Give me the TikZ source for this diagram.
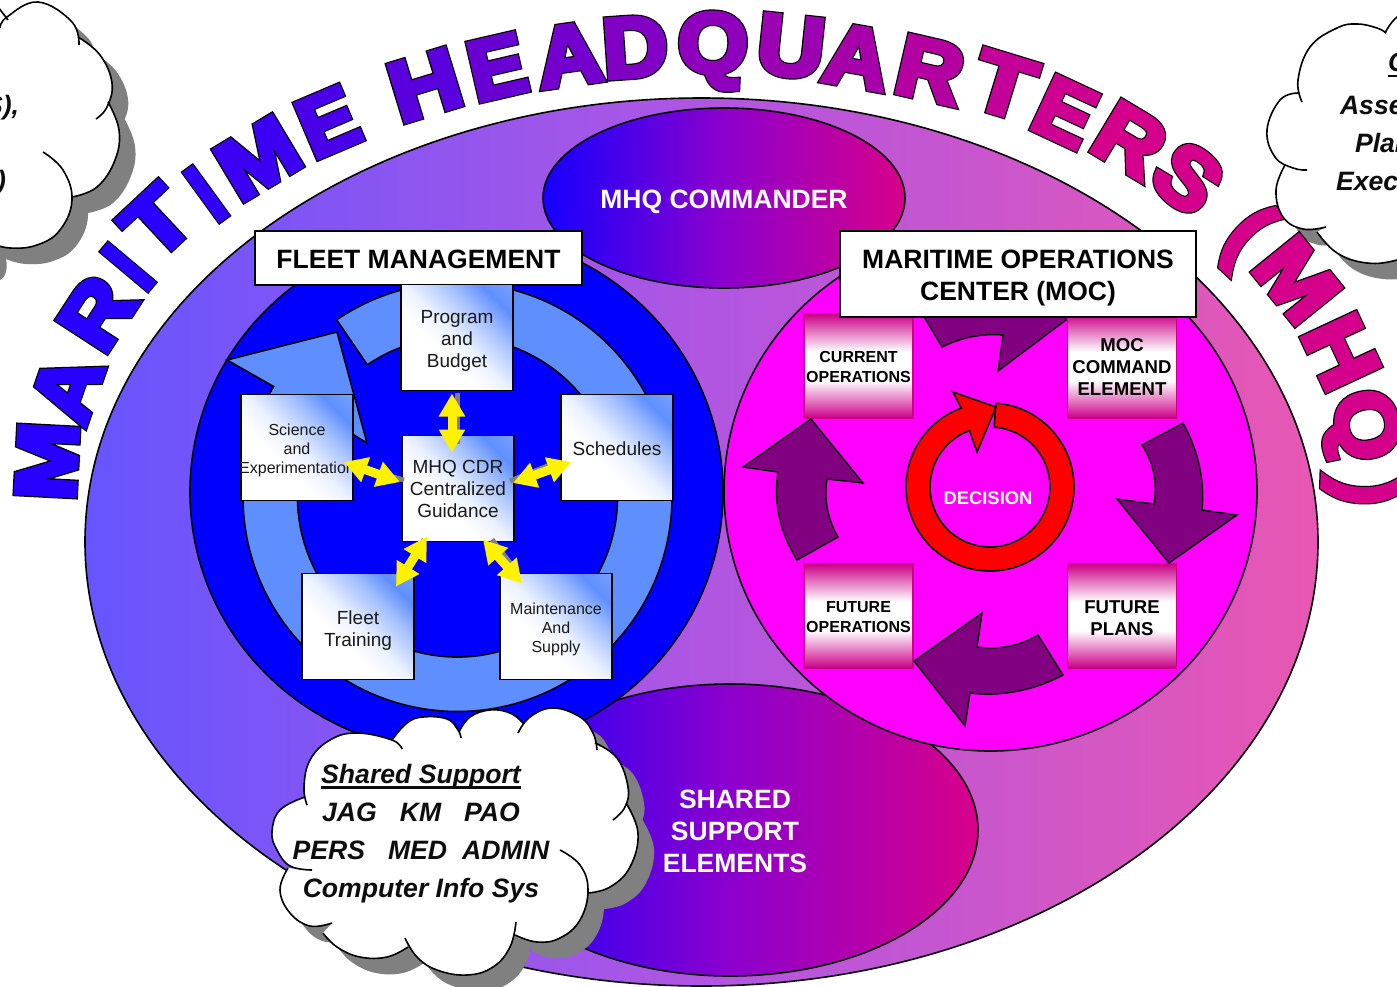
\documentclass[tikz,border=0pt]{standalone}
\usepackage{fontspec}
\usepackage{graphicx}
\setmainfont{Liberation Sans}
\usetikzlibrary{calc,arrows.meta,shadings}
\definecolor{tA}{RGB}{40,0,255}
\definecolor{tB}{RGB}{212,0,140}
\definecolor{ovL}{RGB}{102,85,255}
\definecolor{ovM}{RGB}{176,86,226}
\definecolor{ovR}{RGB}{232,87,178}
\definecolor{elL}{RGB}{20,0,255}
\definecolor{elM}{RGB}{140,0,205}
\definecolor{elR}{RGB}{216,0,138}
\definecolor{ring}{RGB}{95,143,255}
\definecolor{pk}{RGB}{204,0,136}
\definecolor{mgt}{RGB}{255,0,255}
\definecolor{purp}{RGB}{128,0,128}
\definecolor{shad}{RGB}{128,128,128}
\pgfdeclareverticalshading{boxg}{100bp}{color(0bp)=(white); color(15bp)=(white); color(40bp)=(white); color(50bp)=(ring!12!white); color(64bp)=(ring!55!white); color(75bp)=(ring); color(85bp)=(ring!85!white); color(100bp)=(ring!85!white)}
\pgfdeclareverticalshading{pkg}{100bp}{color(0bp)=(pk); color(25bp)=(pk); color(43bp)=(white); color(57bp)=(white); color(75bp)=(pk); color(100bp)=(pk)}
\newcommand{\olt}[2][1.14]{\rlap{\special{pdf:code q 0 0 0 RG 2 Tr 7 w 3 M}\scalebox{#1}[1]{#2}\special{pdf:code 0 Tr Q}}\special{pdf:code q 2 Tr 4.6 w 3 M}\scalebox{#1}[1]{#2}\special{pdf:code 0 Tr Q}}
\newcommand{\dn}[1]{\rule{0pt}{\dimexpr 0.75em+2\dimexpr #1\relax\relax}}
\newcommand{\thul}[1]{\setbox0\hbox{#1}\rlap{\rule[-5.5pt]{\wd0}{2.5pt}}\box0 }
\newcommand{\cloudC}[1]{%
 plot[smooth,tension=.7] coordinates {(307,805)(304,787)(310,760)(330,740)(357,733)(392,740)(402,749)}
 #1 plot[smooth,tension=.7] coordinates {(392,740)(407,723)(423,717)(447,719)(458,730)(461,738)}
 #1 plot[smooth,tension=.7] coordinates {(459,732)(470,717)(490,710)(510,713)(523,723)}
 #1 plot[smooth,tension=.7] coordinates {(518,733)(530,717)(553,708)(580,717)(593,733)(597,750)}
 #1 plot[smooth,tension=.7] coordinates {(595,743)(617,758)(628,787)(625,807)(613,820)}
 #1 plot[smooth,tension=.7] coordinates {(626,803)(638,833)(630,867)(610,887)(588,893)}
 #1 plot[smooth,tension=.7] coordinates {(560,850)(580,865)(588,890)(580,920)(560,938)(537,942)(515,935)}
 #1 plot[smooth,tension=.7] coordinates {(516,922)(510,947)(493,967)(467,975)(437,970)(417,957)(405,938)}
 #1 plot[smooth,tension=.7] coordinates {(408,947)(387,957)(360,957)(337,947)(323,933)}
 #1 plot[smooth,tension=.7] coordinates {(332,923)(310,926)(290,913)(280,890)(288,868)}
 #1 plot[smooth,tension=.7] coordinates {(312,870)(290,866)(277,850)(272,832)(280,810)(305,797)}}
\newcommand{\cloudL}[1]{%
 plot[smooth,tension=.7] coordinates {(-5,3)(8,20)}
 #1 plot[smooth,tension=.7] coordinates {(0,28)(7,17)(38,2)(72,22)(79,45)}
 #1 plot[smooth,tension=.7] coordinates {(78,37)(100,55)(112,83)(107,107)(96,119)}
 #1 plot[smooth,tension=.7] coordinates {(108,102)(119,130)(115,160)(97,187)(72,197)}
 #1 plot[smooth,tension=.7] coordinates {(43,152)(63,170)(72,200)(60,230)(37,245)(10,248)(-10,243)}
 #1 plot[smooth,tension=.7] coordinates {(-10,243)(-16,264)(-60,270)}
 #1 (-100,100) #1 (-50,-10)}
\newcommand{\cloudR}[1]{%
 plot[smooth,tension=.7] coordinates {(1302,102)(1298,80)(1310,47)(1337,28)(1357,24)(1377,28)(1386,33)}
 #1 plot[smooth,tension=.7] coordinates {(1385,33)(1397,17)(1420,5)}
 #1 (1460,100)
 #1 plot[smooth,tension=.7] coordinates {(1420,250)(1397,260)(1367,263)(1337,253)(1317,232)}
 #1 plot[smooth,tension=.7] coordinates {(1326,227)(1303,229)(1283,217)(1276,190)(1285,165)}
 #1 plot[smooth,tension=.7] coordinates {(1307,170)(1293,168)(1275,157)(1267,130)(1280,100)(1298,93)}}
\tikzset{
 every node/.style={inner sep=0pt,outer sep=0pt},
 lw/.style={line width=1.6pt,draw=black},
 ttl/.style={font=\bfseries\fontsize{85}{85}\selectfont,text height=58.5pt,text depth=0pt},
 ttp/.style={font=\bfseries\fontsize{85}{85}\selectfont},
 wbox/.style={draw=black,line width=1.6pt,fill=white,font=\bfseries\fontsize{26.5}{32}\selectfont,align=center},
 bbox/.style={draw=black,line width=1.6pt,shade,shading=boxg,shading angle=-45,minimum width=112pt,minimum height=106pt,align=center,text=black!90},
 big/.style={font=\fontsize{19}{22}\selectfont},
 small/.style={font=\fontsize{16}{19}\selectfont},
 pbox/.style={draw=pk,line width=1.6pt,shade,shading=pkg,minimum width=109pt,minimum height=104pt,align=center},
 ptsmall/.style={font=\bfseries\fontsize{16}{20}\selectfont},
 ptbig/.style={font=\bfseries\fontsize{18.6}{22}\selectfont},
 wtxt/.style={text=white,font=\bfseries\fontsize{26.5}{32}\selectfont,align=center},
 parr/.style={draw=black,line width=1.4pt,fill=purp,line join=miter},
 yarr/.style={draw=yellow,line width=9pt,{Triangle[length=23pt,width=25pt]}-{Triangle[length=23pt,width=25pt]}},
 garr/.style={draw=shad,line width=5pt},
 cloudtxt/.style={font=\bfseries\itshape\fontsize{26.6}{38}\selectfont,align=center,text=black!95},
 cloudline/.style={draw=black,line width=1.6pt},
}
\begin{document}
\begin{tikzpicture}[x=1pt,y=-1pt]
\useasboundingbox (0,0) rectangle (1397,986);
\clip (0,0) rectangle (1397,986);
\fill[white] (0,0) rectangle (1397,986);
% large ellipse
\path[lw,left color=ovL,right color=ovR,middle color=ovM] (701.5,542) ellipse [x radius=616.5,y radius=444];
% commander and shared ellipses
\path[lw,left color=elL,right color=elR,middle color=elM] (724,198) ellipse [x radius=181,y radius=90];
\path[lw,left color=elL,right color=elR,middle color=elM] (730,830) ellipse [x radius=248,y radius=146];
% two circles
\path[lw,fill=blue] (456.5,492) ellipse [x radius=266.5,y radius=260];
\path[lw,fill=mgt] (990.5,491) ellipse [x radius=266.5,y radius=260];
% light-blue ring arrow
\coordinate (rc) at (457.5,497);
\path[lw,fill=ring,line join=miter] ($(rc)+(-124.3:214.5)$) arc[start angle=-124.3,end angle=211,radius=214.5]
  -- (227,360) -- (337,332) -- (367,443) -- ($(rc)+(211:160)$) arc[start angle=211,end angle=-124.3,radius=160] -- cycle;
% pink boxes
\node[pbox,ptsmall] (cur) at (858.5,366) {\dn{1pt}CURRENT\\OPERATIONS};
\node[pbox,ptbig] (cmd) at (1122,366) {\dn{1pt}MOC\\COMMAND\\ELEMENT};
\node[pbox,ptsmall] (fop) at (858.5,616) {\dn{1pt}FUTURE\\OPERATIONS};
\node[pbox,ptbig] (fpl) at (1122,616) {\dn{1.5pt}FUTURE\\PLANS};
% purple arrows
\path[parr] (917,305) -- (942,347) .. controls (960,338) and (982,333) .. (1003,335) -- (998,371) -- (1066,320) -- (1055,290) -- (925,290) -- cycle;
\path[parr] (1183,423) -- (1142,445) .. controls (1155,465) and (1157,485) .. (1154,504) -- (1117,499) -- (1169,563) -- (1237,515) -- (1202,510) .. controls (1205,480) and (1198,450) .. (1183,423) -- cycle;
\path[parr] (1063,675) -- (1038,635) .. controls (1020,646) and (998,650) .. (977,647) -- (982,613) -- (914,661) -- (965,726) -- (970,693) .. controls (1002,697) and (1035,690) .. (1063,675) -- cycle;
\path[parr] (797,560) -- (838,537) .. controls (827,518) and (824,498) .. (827,479) -- (863,483) -- (811,419) -- (743,467) -- (778,472) .. controls (773,502) and (780,533) .. (797,560) -- cycle;
% red ring arrow
\coordinate (dc) at (990,487);
\path[lw,fill=red,line join=miter] ($(dc)+(-86:84)$) arc[start angle=-86,end angle=250,radius=84]
  -- (953,392) -- (996,407) -- (977,452) -- ($(dc)+(250:60)$) arc[start angle=250,end angle=-86,radius=60] -- cycle;
\node[text=white,font=\bfseries\fontsize{18.4}{22}\selectfont] (dec) at (988,498) {DECISION};
% header boxes
\node[wbox,minimum width=327pt,minimum height=54pt] (fleet) at (418.5,258) {\dn{1pt}FLEET MANAGEMENT};
\node[wbox,minimum width=356pt,minimum height=86pt] (moc) at (1018,274) {\dn{3pt}MARITIME OPERATIONS\\CENTER (MOC)};
% ellipse labels
\node[wtxt] (cmdr) at (724,202) {MHQ COMMANDER};
\node[wtxt] (sse) at (735,831) {SHARED\\SUPPORT\\ELEMENTS};
% fleet boxes
\node[bbox,big] (prog) at (457,337.5) {\dn{2.5pt}Program\\and\\Budget};
\node[bbox,small] (sci) at (297,447.5) {\dn{3pt}Science\\and\\\makebox[0pt][c]{Experimentation}};
\node[bbox,big] (sch) at (617,447.5) {\dn{1pt}Schedules};
\node[bbox,big] (mhq) at (458,488.5) {MHQ CDR\\Centralized\\Guidance};
\node[bbox,big] (flt) at (358,626.5) {\dn{4pt}Fleet\\Training};
\node[bbox,small] (mnt) at (556,626.5) {\dn{3pt}Maintenance\\And\\Supply};
% connectors
\draw[garr] ([shift={(0,2)}]prog.south) -- ([shift={(-1,8)}]mhq.north);
\draw[garr] ([shift={(2,-8.5)}]mhq.west) -- ([shift={(12,22)}]sci.east);
\draw[garr] ([shift={(-4,-7.5)}]mhq.east) -- ([shift={(-11,17.5)}]sch.west);
\draw[garr] ([shift={(-34,-2)}]mhq.south) -- ([shift={(-11,-3)}]flt.north east);
\draw[garr] ([shift={(34,-2)}]mhq.south) -- ([shift={(12,-8)}]mnt.north west);
\draw[yarr] ([shift={(-5,3)}]prog.south) -- ([shift={(-6,17)}]mhq.north);
\draw[yarr] ([shift={(-9,14.5)}]sci.east) -- ([shift={(-2,-6.5)}]mhq.west);
\draw[yarr] ([shift={(10,14.5)}]sch.west) -- ([shift={(-1,-5.5)}]mhq.east);
\draw[yarr] ([shift={(-18,13)}]flt.north east) -- ([shift={(-31,-5)}]mhq.south);
\draw[yarr] ([shift={(22,10)}]mnt.north west) -- ([shift={(25,-2)}]mhq.south);
% parenthesis under the cloud
\node[ttp,text=tB,rotate=-43] (tpo) at (1246,236) {\olt[1]{(}};
% clouds
\begin{scope}[shift={(16,16)}]
\fill[shad] \cloudC{--} -- cycle;
\fill[shad] \cloudL{--} -- cycle;
\fill[shad] \cloudR{--} -- cycle;
\end{scope}
\fill[white] \cloudC{--} -- cycle;
\fill[white] \cloudL{--} -- cycle;
\fill[white] \cloudR{--} -- cycle;
\draw[cloudline] \cloudC{};
\draw[cloudline] plot[smooth,tension=.7] coordinates {(-5,3)(8,20)};
\draw[cloudline] plot[smooth,tension=.7] coordinates {(0,28)(7,17)(38,2)(72,22)(79,45)};
\draw[cloudline] plot[smooth,tension=.7] coordinates {(78,37)(100,55)(112,83)(107,107)(96,119)};
\draw[cloudline] plot[smooth,tension=.7] coordinates {(108,102)(119,130)(115,160)(97,187)(72,197)};
\draw[cloudline] plot[smooth,tension=.7] coordinates {(43,152)(63,170)(72,200)(60,230)(37,245)(10,248)(-10,243)};
\draw[cloudline] plot[smooth,tension=.7] coordinates {(1302,102)(1298,80)(1310,47)(1337,28)(1357,24)(1377,28)(1386,33)};
\draw[cloudline] plot[smooth,tension=.7] coordinates {(1385,33)(1397,17)(1420,5)};
\draw[cloudline] plot[smooth,tension=.7] coordinates {(1420,250)(1397,260)(1367,263)(1337,253)(1317,232)};
\draw[cloudline] plot[smooth,tension=.7] coordinates {(1326,227)(1303,229)(1283,217)(1276,190)(1285,165)};
\draw[cloudline] plot[smooth,tension=.7] coordinates {(1307,170)(1293,168)(1275,157)(1267,130)(1280,100)(1298,93)};
% cloud texts
\node[cloudtxt] (cct) at (421,833.5) {\thul{Shared Support}\\JAG\hspace{23pt}KM\hspace{23pt}PAO\\PERS\hspace{23pt}MED\hspace{15pt}ADMIN\\Computer Info Sys};
\node[cloudtxt,anchor=east] (cl1) at (19,108) {S),};
\node[cloudtxt,anchor=east] (cl2) at (6,183) {)};
\node[cloudtxt,anchor=west] (cr0) at (1388,65) {\thul{C}};
\node[cloudtxt,anchor=west] (cr1) at (1340,105) {Asse};
\node[cloudtxt,anchor=west] (cr2) at (1355,143) {Plan};
\node[cloudtxt,anchor=west] (cr3) at (1336,181) {Exec};
% title
\node[ttl,text=tA,rotate=87] (t01) at (47,461) {\olt[1.11]{M}};
\node[ttl,text=tA,rotate=71] (t02) at (67,388) {\olt[1.05]{A}};
\node[ttl,text=tA,rotate=57] (t03) at (97,313) {\olt[1.07]{R}};
\node[ttl,text=tA,rotate=50] (t04) at (128,267) {\olt[.8]{I}};
\node[ttl,text=tB!1!tA,rotate=43] (t05) at (157,222) {\olt[1.14]{T}};
\node[ttl,text=tB!6!tA,rotate=36] (t06) at (206,194) {\olt[.8]{I}};
\node[ttl,text=tB!11!tA,rotate=31] (t07) at (258,158) {\olt[1.11]{M}};
\node[ttl,text=tB!19!tA,rotate=23] (t08) at (328,122) {\olt[1]{E}};
\node[ttl,text=tB!29!tA,rotate=17] (t09) at (425,85) {\olt[1.14]{H}};
\node[ttl,text=tB!37!tA,rotate=13] (t10) at (497,67) {\olt[1]{E}};
\node[ttl,text=tB!44!tA,rotate=8] (t11) at (569,55) {\olt[1.05]{A}};
\node[ttl,text=tB!51!tA,rotate=4] (t12) at (635,47) {\olt[1.06]{D}};
\node[ttl,text=tB!59!tA,rotate=-2] (t13) at (713,43) {\olt[1.06]{Q}};
\node[ttl,text=tB!67!tA,rotate=-6] (t14) at (791,46) {\olt[1.09]{U}};
\node[ttl,text=tB!74!tA,rotate=-10] (t15) at (857,57) {\olt[1.05]{A}};
\node[ttl,text=tB!82!tA,rotate=-13] (t16) at (930,70) {\olt[1.07]{R}};
\node[ttl,text=tB!90!tA,rotate=-17] (t17) at (1004,85) {\olt[1.14]{T}};
\node[ttl,text=tB!96!tA,rotate=-25] (t18) at (1065,112) {\olt[1]{E}};
\node[ttl,text=tB,rotate=-31] (t19) at (1130,140) {\olt[1.07]{R}};
\node[ttl,text=tB,rotate=-40] (t20) at (1188,178) {\olt[1.05]{S}};
\node[ttl,text=tB,rotate=-51] (t21) at (1297,280) {\olt[1.11]{M}};
\node[ttl,text=tB,rotate=-65] (t22) at (1341,352) {\olt[1.14]{H}};
\node[ttl,text=tB,rotate=-78] (t23) at (1367,425) {\olt[1.06]{Q}};
\node[ttp,text=tB,rotate=-92] (tpc) at (1362,491) {\olt[1]{)}};
\end{tikzpicture}
\end{document}
